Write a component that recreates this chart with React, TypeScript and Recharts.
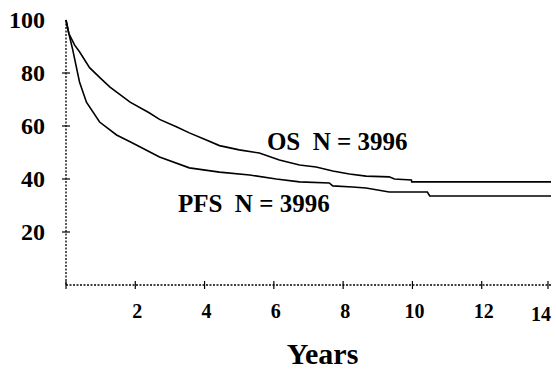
import React from 'react';
import { LineChart, Line, XAxis, YAxis, ReferenceDot } from 'recharts';

const osYears = [0, 0.08, 0.25, 0.39, 0.68, 1.0, 1.27, 1.85, 2.4, 2.7, 3.2, 3.56, 4.0, 4.43, 5.0, 5.58, 6.16, 6.74, 7.22, 7.7, 8.18, 8.66, 9.33, 9.48, 9.97, 9.98, 14];
const osSurvival = [100, 95, 90.5, 88, 82, 78, 74.7, 69, 65, 62.5, 59.6, 57.4, 55, 52.6, 51, 49.8, 47.2, 45.3, 44.5, 43, 41.9, 41.1, 40.8, 40, 39.6, 38.9, 38.9];

const pfsYears = [0, 0.08, 0.19, 0.39, 0.59, 0.97, 1.46, 1.92, 2.7, 3.56, 4.43, 5.3, 6.07, 6.74, 7.6, 7.7, 8.27, 8.66, 9.33, 10.43, 10.5, 14];
const pfsSurvival = [100, 95, 89, 76.6, 69, 61.5, 56.6, 53.6, 48.3, 44.2, 42.6, 41.5, 40, 38.9, 38.5, 37.4, 37, 36.6, 35.1, 35.1, 33.6, 33.6];

const xTicks = [0, 2, 4, 6, 8, 10, 12, 14];
const yTicks = [20, 40, 60, 80, 100];

const osData = osYears.map((t, i) => ({ t, v: osSurvival[i] }));
const pfsData = pfsYears.map((t, i) => ({ t, v: pfsSurvival[i] }));

const FONT = "'Liberation Serif', 'Times New Roman', Times, serif";
const textStyle = { fontFamily: FONT, fontWeight: 700 as const };

const YTick = (props: any) => {
  const { x, y, payload } = props;
  return (
    <g>
      {payload.value < 100 && <line x1={x - 4} x2={x + 4} y1={y} y2={y} stroke="#000" strokeWidth={1.2} />}
      <text x={x - 21} y={y} dy="0.35em" textAnchor="end" style={{ ...textStyle, fontSize: 24 }} fill="#000">
        {payload.value}
      </text>
    </g>
  );
};

const XTick = (props: any) => {
  const { x, y, payload } = props;
  const last = payload.value === 14;
  return (
    <g>
      <line x1={x} x2={x} y1={y - 4} y2={y + 4} stroke="#000" strokeWidth={1.2} />
      {payload.value > 0 && (
        <text x={last ? x + 3 : x + 2} y={y + (last ? 36 : 33)} textAnchor={last ? 'end' : 'middle'} style={{ ...textStyle, fontSize: 20 }} fill="#000">
          {payload.value}
        </text>
      )}
    </g>
  );
};

const YearsLabel = (props: any) => {
  const vb = props.viewBox;
  return (
    <text x={vb.x + vb.width / 2 + 14} y={vb.y + vb.height - 5} textAnchor="middle" style={{ ...textStyle, fontSize: 30 }} fill="#000">
      Years
    </text>
  );
};

const makeTextShape = (label: string) => (props: any) => (
  <text x={props.cx} y={props.cy} style={{ ...textStyle, fontSize: 25, whiteSpace: 'pre' }} fill="#000">
    {label}
  </text>
);

export default function App() {
  return (
    <div style={{ position: 'absolute', left: 0, top: 0, background: '#fff' }}>
      <LineChart width={556} height={369} margin={{ top: 20, right: 5, left: 0, bottom: 0 }}>
        <XAxis
          type="number"
          dataKey="t"
          domain={[0, 14]}
          ticks={xTicks}
          height={84}
          tickSize={0}
          tickMargin={0}
          tick={<XTick />}
          axisLine={{ stroke: '#000', strokeWidth: 1.3, strokeDasharray: '2 1.5' }}
          label={<YearsLabel />}
        />
        <YAxis
          type="number"
          domain={[0, 100]}
          ticks={yTicks}
          width={66}
          tickSize={0}
          tickMargin={0}
          tick={<YTick />}
          axisLine={{ stroke: '#000', strokeWidth: 1.3, strokeDasharray: '2 1.5' }}
        />
        <Line data={osData} dataKey="v" type="linear" stroke="#000" strokeWidth={1.6} dot={false} isAnimationActive={false} />
        <Line data={pfsData} dataKey="v" type="linear" stroke="#000" strokeWidth={1.6} dot={false} isAnimationActive={false} />
        <ReferenceDot x={5.8} y={50.8} r={0} shape={makeTextShape('OS  N = 3996')} />
        <ReferenceDot x={3.23} y={27.5} r={0} shape={makeTextShape('PFS  N = 3996')} />
      </LineChart>
    </div>
  );
}
